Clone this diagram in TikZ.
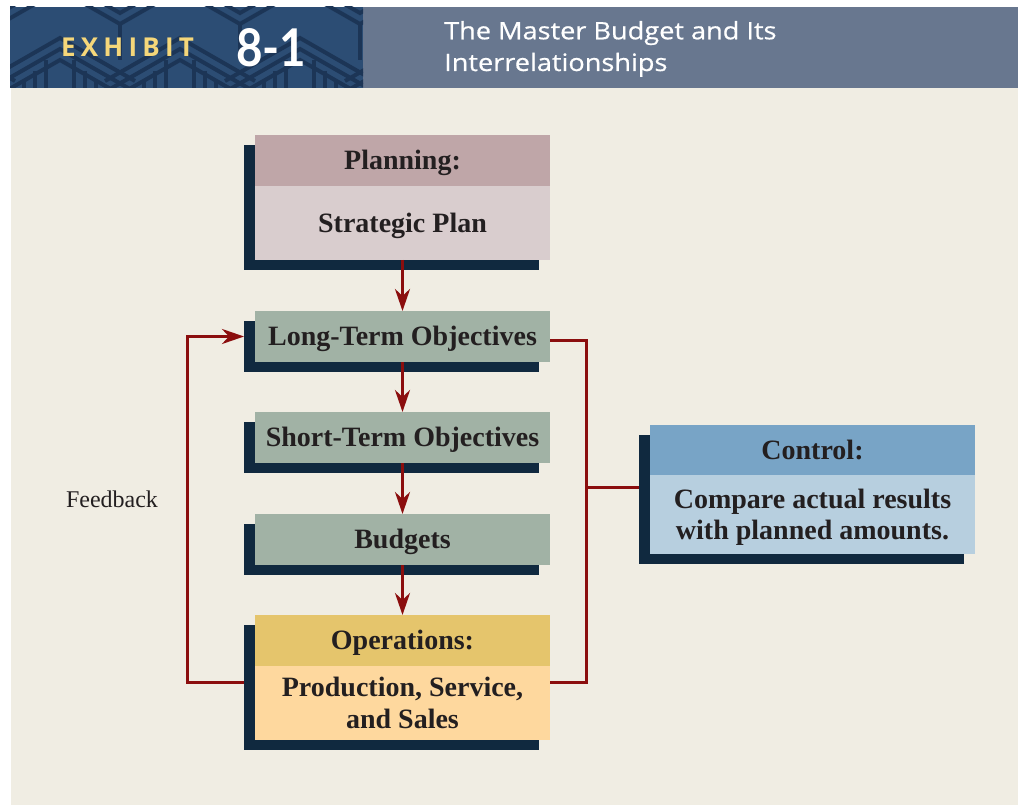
\documentclass[tikz,border=0pt]{standalone}
\usepackage{fontspec}
\setmainfont{Liberation Serif}
\newfontfamily\hdfont[FakeStretch=1.13,FakeBold=0.6]{Open Sans}
\newfontfamily\numfont[FakeStretch=0.88]{Lato}
\newfontfamily\exfont[LetterSpace=20]{Open Sans}
\usetikzlibrary{arrows.meta,shadows,calc}
\pgfdeclarelayer{background}
\pgfsetlayers{background,main}
\definecolor{bgc}{HTML}{F0EDE3}
\definecolor{slate}{HTML}{68778F}
\definecolor{patlight}{HTML}{2C4D74}
\definecolor{patdark}{HTML}{1C3556}
\definecolor{exyel}{HTML}{F5D77A}
\definecolor{plhc}{HTML}{BFA6A8}
\definecolor{plbc}{HTML}{D9CDCE}
\definecolor{grc}{HTML}{A1B2A5}
\definecolor{ophc}{HTML}{E5C56C}
\definecolor{opbc}{HTML}{FED89E}
\definecolor{cohc}{HTML}{78A4C6}
\definecolor{cobc}{HTML}{B7CFDF}
\definecolor{shadc}{HTML}{10293F}
\definecolor{redc}{HTML}{8B0E0E}
\definecolor{txtc}{HTML}{231F20}
\tikzset{
  box/.style={rectangle, draw=none, inner sep=0pt, outer sep=0pt,
    minimum width=295pt, align=center, text=txtc,
    font=\bfseries\fontsize{28}{31.5}\selectfont,
    text height=18.5pt, text depth=0pt,
    drop shadow={shadow xshift=-11pt, shadow yshift=-10pt, fill=shadc, opacity=1}},
  twoline/.style={text height=50pt},
  cbox/.style={box, minimum width=325pt},
  redline/.style={draw=redc, line width=3pt},
  redarrow/.style={redline, -{Stealth[length=22pt,width=15pt,inset=7pt]}},
  patline/.style={draw=patdark, line width=4pt}
}
\begin{document}
\begin{tikzpicture}[x=1pt,y=-1pt]
\useasboundingbox (0,0) rectangle (1018,805);
\begin{pgfonlayer}{background}
\fill[white] (0,0) rectangle (1018,805);
\fill[bgc] (11,88) rectangle (1018,805);
\fill[slate] (10,7) rectangle (1018,88);
\begin{scope}
  \clip (10,7) rectangle (363,88);
  \fill[patlight] (10,7) rectangle (363,88);
  \foreach \cx in {-60,60,180,300,420} {
    \foreach \d in {0,11,22} {
      \draw[patline] (\cx-75,38+\d+43) -- (\cx,38+\d) -- (\cx+75,38+\d+43);
      \draw[patline] (\cx+60-70,24-\d-40) -- (\cx+60,24-\d) -- (\cx+60+70,24-\d-40);
      \draw[patline] (\cx-14-\d,60+\d) -- (\cx-14-\d,100);
      \draw[patline] (\cx+14+\d,60+\d) -- (\cx+14+\d,100);
    }
    \draw[patline] (\cx+60,24) -- (\cx+60,60);
  }
\end{scope}
\end{pgfonlayer}
\node[anchor=base west, inner sep=0pt, text=exyel, font=\exfont\bfseries\fontsize{26}{26}\selectfont] (exh) at (61,56.7) {EXHIBIT};
\node[anchor=base west, inner sep=0pt, text=white, font=\numfont\bfseries\fontsize{52}{52}\selectfont] (num) at (236,66.7) {8-1};
\node[anchor=base west, inner sep=0pt, text=white, font=\hdfont\fontsize{24}{24}\selectfont] (tt1) at (444,39.3) {The Master Budget and Its};
\node[anchor=base west, inner sep=0pt, text=white, font=\hdfont\fontsize{24}{24}\selectfont] (tt2) at (444,71) {Interrelationships};

% boxes
\node[box, fill=plhc, minimum height=51pt] (plh) at (402.5,160.5) {Planning:};
\node[box, fill=plbc, minimum height=74pt] (plb) at (402.5,223) {Strategic Plan};
\node[box, fill=grc, minimum height=51pt] (lto) at (402.5,336.5) {Long-Term Objectives};
\node[box, fill=grc, minimum height=51pt] (sto) at (402.5,437.5) {Short-Term Objectives};
\node[box, fill=grc, minimum height=51pt] (bud) at (402.5,539.5) {Budgets};
\node[box, fill=ophc, minimum height=51pt] (oph) at (402.5,640.5) {Operations:};
\node[box, twoline, fill=opbc, minimum height=74pt] (opb) at (402.5,703) {Production, Service,\\and Sales};
\node[cbox, fill=cohc, minimum height=50pt] (coh) at (812.5,450) {Control:};
\node[cbox, twoline, fill=cobc, minimum height=79pt] (cob) at (812.5,514.5) {Compare actual results\\with planned amounts.};

\node[inner sep=0pt, text=txtc, font=\fontsize{24}{24}\selectfont] (fbk) at (112,499) {Feedback};

% vertical arrows
\draw[redarrow] (plb.south) -- (lto.north);
\draw[redarrow] (lto.south) -- (sto.north);
\draw[redarrow] (sto.south) -- (bud.north);
\draw[redarrow] (bud.south) -- (oph.north);

% feedback and control loops
\coordinate (fbx) at (187,0);
\coordinate (rx) at (586,0);
\coordinate (fbS) at ([yshift=21pt]opb.west);
\coordinate (rS) at ([yshift=21pt]opb.east);
\coordinate (ltoR) at ([yshift=-4pt]lto.east);
\coordinate (ltoL) at ([xshift=-11pt]lto.west);
\coordinate (jR) at (586,487);
\begin{pgfonlayer}{background}
\draw[redarrow] (fbS) -- (fbS -| fbx) -- (fbx |- ltoL) -- (ltoL);
\draw[redline] (ltoR) -- (ltoR -| rx) -- (rx |- rS) -- (rS);
\draw[redline] (jR) -- (jR -| cob.west);
\end{pgfonlayer}
\end{tikzpicture}
\end{document}
